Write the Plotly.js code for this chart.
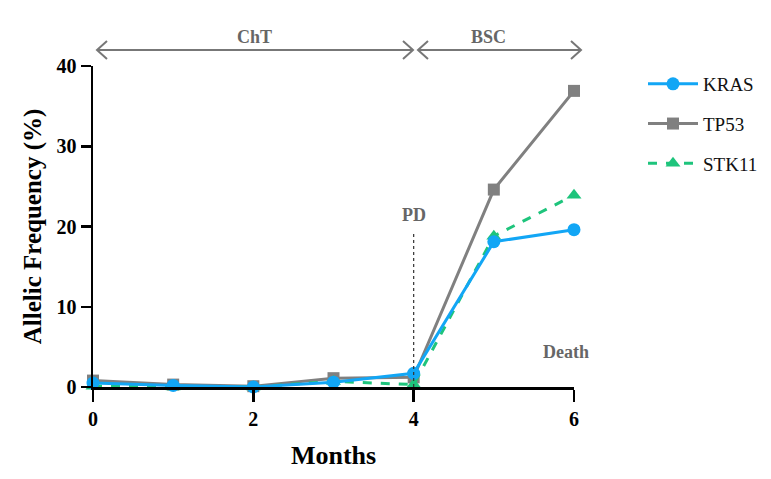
<!DOCTYPE html>
<html>
<head>
<meta charset="utf-8">
<script src="https://cdn.plot.ly/plotly-3.0.1.min.js"></script>
<style>html,body{margin:0;padding:0;background:#fff;}#chart{width:771px;height:479px;}</style>
</head>
<body>
<div id="chart"></div>
<script>
// ---- data ----
const months = [0, 1, 2, 3, 4, 5, 6];
const kras  = [0.5, 0.2, 0.0, 0.6, 1.7, 18.1, 19.6];
const tp53  = [0.8, 0.3, 0.1, 1.1, 1.2, 24.6, 36.9];
const stk11 = [0.1, 0.0, 0.0, 0.7, 0.3, 18.8, 23.9];
const seriesNames = ["KRAS", "TP53", "STK11"];
const xTicks = [0, 2, 4, 6];
const yTicks = [0, 10, 20, 30, 40];
const pdMonth = 4;
const pdLineTop = 19.2;

// ---- layout geometry (pixels) ----
const W = 771, H = 479;
const M = {l: 93, r: 197, t: 66, b: 92, autoexpand: false};
const pw = W - M.l - M.r, ph = H - M.t - M.b;
const px = x => (x - M.l) / pw;          // pixel x -> paper
const py = y => (H - M.b - y) / ph;      // pixel y -> paper

const serif = "Liberation Serif, Times New Roman, DejaVu Serif, serif";
const grayText = "#666666";
const arrowColor = "#777777";

const traces = [
  {x: months, y: tp53, name: seriesNames[1], mode: "lines+markers", legendrank: 2, legendgroup: "b",
   line: {color: "#808080", width: 3}, marker: {symbol: "square", size: 12, color: "#808080"}, cliponaxis: false},
  {x: months, y: stk11, name: seriesNames[2], mode: "lines+markers", legendrank: 3, legendgroup: "c",
   line: {color: "#1ec47c", width: 3, dash: "dash"}, marker: {symbol: "triangle-up", size: 13, color: "#1ec47c"}, cliponaxis: false},
  {x: months, y: kras, name: seriesNames[0], mode: "lines+markers", legendrank: 1, legendgroup: "a",
   line: {color: "#12a6f5", width: 3}, marker: {symbol: "circle", size: 13, color: "#12a6f5"}, cliponaxis: false}
];

function doubleArrow(x1, x2, y, arm, rise) {
  const p = [];
  p.push(`M${px(x1)},${py(y)} L${px(x2)},${py(y)}`);
  p.push(`M${px(x1 + arm)},${py(y - rise)} L${px(x1)},${py(y)} L${px(x1 + arm)},${py(y + rise)}`);
  p.push(`M${px(x2 - arm)},${py(y - rise)} L${px(x2)},${py(y)} L${px(x2 - arm)},${py(y + rise)}`);
  return {type: "path", xref: "paper", yref: "paper", path: p.join(" "),
          line: {color: arrowColor, width: 2}};
}

const layout = {
  width: W, height: H,
  margin: M,
  paper_bgcolor: "#fff", plot_bgcolor: "#fff",
  font: {family: serif, color: "#000"},
  showlegend: true,
  legend: {x: px(643), y: py(65), xanchor: "left", yanchor: "top",
           font: {family: serif, size: 19, color: "#111", weight: "normal"},
           tracegroupgap: 12, itemwidth: 50, bgcolor: "rgba(0,0,0,0)"},
  xaxis: {
    range: [0, 6], tickvals: xTicks, ticktext: xTicks.map(String), automargin: false,
    showgrid: false, zeroline: false, showline: true, linecolor: "#000", linewidth: 2.5,
    ticks: "outside", ticklen: 12, tickwidth: 2.5, tickcolor: "#000",
    tickfont: {family: serif, size: 20, color: "#000", weight: "bold"},
    title: {text: "<b>Months</b>", font: {family: serif, size: 26, color: "#000"}, standoff: 18}
  },
  yaxis: {
    range: [0, 40], tickvals: yTicks, ticktext: yTicks.map(String), automargin: false,
    showgrid: false, zeroline: false, showline: true, linecolor: "#000", linewidth: 2.5,
    ticks: "outside", ticklen: 10, tickwidth: 2.5, tickcolor: "#000",
    tickfont: {family: serif, size: 20, color: "#000", weight: "bold"},
    title: {text: "<b>Allelic Frequency (%)</b>", font: {family: serif, size: 25, color: "#000"}, standoff: 8}
  },
  shapes: [
    {type: "line", xref: "x", yref: "y", x0: pdMonth, x1: pdMonth, y0: 0, y1: pdLineTop,
     line: {color: "#333", width: 1.2, dash: "dot"}},
    doubleArrow(97, 413, 50, 10, 9),
    doubleArrow(418, 581, 50, 10, 9)
  ],
  annotations: [
    {xref: "paper", yref: "paper", x: px(254), y: py(25), text: "<b>ChT</b>", showarrow: false,
     font: {family: serif, size: 18, color: grayText}},
    {xref: "paper", yref: "paper", x: px(508), y: py(25), text: "<b>BSC</b>", showarrow: false,
     font: {family: serif, size: 18, color: grayText}},
    {xref: "x", yref: "paper", x: pdMonth, y: py(215), text: "<b>PD</b>", showarrow: false,
     font: {family: serif, size: 18, color: grayText}},
    {xref: "paper", yref: "paper", x: px(591), y: py(364), text: "<b>Death</b>", showarrow: false,
     font: {family: serif, size: 18, color: grayText}}
  ]
};

Plotly.newPlot("chart", traces, layout, {displayModeBar: false, staticPlot: true});
</script>
</body>
</html>
